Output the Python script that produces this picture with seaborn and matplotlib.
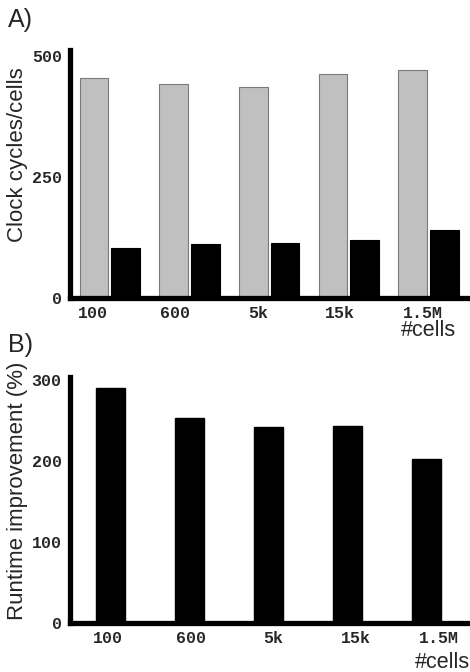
import numpy as np
import pandas as pd
import matplotlib
matplotlib.use("Agg")
import matplotlib.pyplot as plt
import seaborn as sns

# ── DATA ──────────────────────────────────────────────────────────────────────
cells = ["100", "600", "5k", "15k", "1.5M"]
cycles_before = [454, 441, 435, 462, 470]   # grey bars
cycles_after = [103, 112, 114, 120, 140]    # black bars
improvement = [291, 253, 242, 243, 203]     # runtime improvement %

# ── STYLE ─────────────────────────────────────────────────────────────────────
sns.set_theme(style="white")
plt.rcParams["font.family"] = ["Liberation Sans", "DejaVu Sans"]

GREY = "#c0c0c0"
BLACK = "#000000"
MONO = dict(family="Liberation Mono", weight="bold", size=12)

df_a = pd.DataFrame({
    "cells": cells * 2,
    "value": cycles_before + cycles_after,
    "kind": ["before"] * 5 + ["after"] * 5,
})
df_b = pd.DataFrame({"cells": cells, "value": improvement})

fig = plt.figure(figsize=(4.7, 6.72), dpi=100)
ax_a = fig.add_axes([70 / 470, 1 - 298 / 672, 400 / 470, 248 / 672])
ax_b = fig.add_axes([70 / 470, 1 - 623 / 672, 400 / 470, 246 / 672])


def style_axis(ax):
    for side in ["top", "right"]:
        ax.spines[side].set_visible(False)
    for side in ["left", "bottom"]:
        ax.spines[side].set_linewidth(3.8)
        ax.spines[side].set_color("black")
    ax.tick_params(length=0, pad=6)
    ax.set_xlabel("")
    for lbl in ax.get_yticklabels():
        lbl.set_fontproperties(matplotlib.font_manager.FontProperties(**MONO))


# ── PANEL A ───────────────────────────────────────────────────────────────────
sns.barplot(data=df_a, x="cells", y="value", hue="kind", hue_order=["before", "after"],
            palette=[GREY, BLACK], width=0.8, gap=0.1, legend=False, ax=ax_a)
for bar, col in zip(ax_a.patches, [GREY] * 5 + [BLACK] * 5):
    bar.set_edgecolor("#7a7a7a" if col == GREY else BLACK)
    bar.set_linewidth(0.8)
ax_a.set_xlim(-0.5, 4.52)
ax_a.set_ylim(0, 512)
ax_a.set_yticks([0, 250, 500])
ax_a.set_xticks([(93 + 82.5 * i - 110) / 79.75 for i in range(5)])
ax_a.set_xticklabels(cells, **MONO)
ax_a.set_ylabel("Clock cycles/cells", fontsize=16)
ax_a.yaxis.set_label_coords(-0.105, 0.58)
style_axis(ax_a)
fig.text(8 / 470, 1 - 20 / 672, "A)", fontsize=18, va="center", ha="left")
fig.text(428 / 470, 1 - 331 / 672, "#cells", fontsize=15.5, va="center", ha="center")

# ── PANEL B ───────────────────────────────────────────────────────────────────
sns.barplot(data=df_b, x="cells", y="value", color=BLACK, width=0.37,
            edgecolor=BLACK, ax=ax_b)
ax_b.set_xlim(-0.51, 4.55)
ax_b.set_ylim(0, 304)
ax_b.set_yticks([0, 100, 200, 300])
ax_b.set_xticks([(108 + 82.8 * i - 110.5) / 79.0 for i in range(5)])
ax_b.set_xticklabels(cells, **MONO)
ax_b.set_ylabel("Runtime improvement (%)", fontsize=16)
ax_b.yaxis.set_label_coords(-0.105, 0.537)
style_axis(ax_b)
fig.text(8 / 470, 1 - 345 / 672, "B)", fontsize=18, va="center", ha="left")
fig.text(442 / 470, 1 - 662 / 672, "#cells", fontsize=15.5, va="center", ha="center")

fig.savefig("out.png", dpi=100)
